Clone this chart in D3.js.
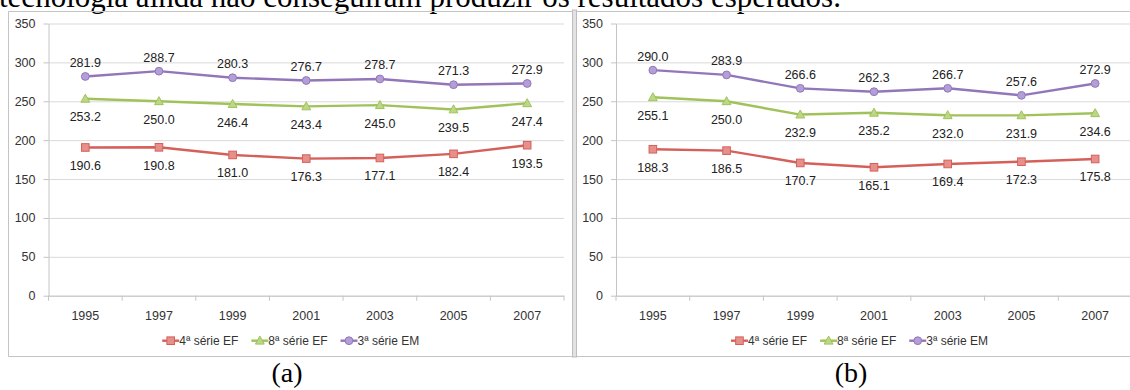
<!DOCTYPE html>
<html>
<head>
<meta charset="utf-8">
<script src="https://cdn.jsdelivr.net/npm/d3@7"></script>
<style>
  body { margin: 0; background: #fff; }
  svg { display: block; }
</style>
</head>
<body>
<div id="chart"></div>
<script>
// data
var years = ["1995", "1997", "1999", "2001", "2003", "2005", "2007"];
var seriesNames = ["4ª série EF", "8ª série EF", "3ª série EM"];
var yTicks = [0, 50, 100, 150, 200, 250, 300, 350];

var a4EF = [190.6, 190.8, 181.0, 176.3, 177.1, 182.4, 193.5];
var a8EF = [253.2, 250.0, 246.4, 243.4, 245.0, 239.5, 247.4];
var a3EM = [281.9, 288.7, 280.3, 276.7, 278.7, 271.3, 272.9];

var b4EF = [188.3, 186.5, 170.7, 165.1, 169.4, 172.3, 175.8];
var b8EF = [255.1, 250.0, 232.9, 235.2, 232.0, 231.9, 234.6];
var b3EM = [290.0, 283.9, 266.6, 262.3, 266.7, 257.6, 272.9];

var captionText = "tecnologia ainda não conseguiram produzir os resultados esperados.";

var svgSize = { width: 1130, height: 390 };

var colors = ["#d5605a", "#a0c25a", "#9177ba"];
var fills = ["#e7908b", "#bcd887", "#b39fd6"];
var markers = ["square", "triangle", "circle"];
// label goes below (+) or above (-) the point
var labelDy = [22.5, 22.5, -9.5];

var font = "'Liberation Sans', Arial, sans-serif";

var svg = d3.select("#chart").append("svg")
    .attr("width", svgSize.width)
    .attr("height", svgSize.height);

// the line of body text cut by the top of the picture
svg.append("text")
    .attr("x", -1)
    .attr("y", 7)
    .attr("font-family", "'Liberation Serif', 'Times New Roman', serif")
    .attr("font-size", 31)
    .attr("fill", "#000")
    .text(captionText);

var panels = [
    { left: 8.5, right: 573, plotLeft: 48.5, plotRight: 564, caption: "(a)", capX: 287,
      data: [a4EF, a8EF, a3EM] },
    { left: 576, right: 1143, plotLeft: 616, plotRight: 1132, caption: "(b)", capX: 851,
      data: [b4EF, b8EF, b3EM] }
];

// panel frames
svg.append("path")
    .attr("d", "M8.5,356.5V11.5H1130M8.5,356.5H1130")
    .attr("fill", "none").attr("stroke", "#c4c4c4");
svg.append("rect")
    .attr("x", 572.5).attr("y", 10).attr("width", 4).attr("height", 347)
    .attr("fill", "#e2e2e2").attr("stroke", "#bdbdbd").attr("stroke-width", 1);

function marker(g, type, cx, cy, i) {
    var m;
    if (type == "square") {
        m = g.append("rect").attr("x", cx - 3.8).attr("y", cy - 3.8)
            .attr("width", 7.6).attr("height", 7.6);
    } else if (type == "triangle") {
        m = g.append("path").attr("d", "M" + cx + "," + (cy - 4.6) + "L" + (cx + 4.4) + "," + (cy + 3.4) + "L" + (cx - 4.4) + "," + (cy + 3.4) + "Z");
    } else {
        m = g.append("circle").attr("cx", cx).attr("cy", cy).attr("r", 3.9);
    }
    m.attr("fill", fills[i]).attr("stroke", colors[i]).attr("stroke-width", 1);
}

panels.forEach(function(p) {
    var frame = svg.append("g");

    var xScale = d3.scaleBand().domain(years).range([p.plotLeft, p.plotRight]);
    var yScale = d3.scaleLinear().domain([0, 350]).range([295.7, 23.5]);
    var bw = xScale.bandwidth();

    // gridlines
    frame.append("g")
        .attr("transform", "translate(" + p.plotLeft + ",0)")
        .call(d3.axisLeft(yScale).tickValues(yTicks).tickSize(-(p.plotRight - p.plotLeft)).tickFormat(""))
        .call(function(g) {
            g.select(".domain").remove();
            g.selectAll("line").attr("stroke", "#d9d9d9").attr("stroke-width", 1);
        });

    // y axis
    frame.append("g")
        .attr("transform", "translate(" + p.plotLeft + ",0)")
        .call(d3.axisLeft(yScale).tickValues(yTicks).tickSize(5).tickSizeOuter(0).tickPadding(8))
        .call(function(g) {
            g.select(".domain").attr("stroke", "#c4c4c4");
            g.selectAll("line").attr("stroke", "#c4c4c4");
            g.selectAll("text").attr("font-family", font).attr("font-size", 12.5).attr("fill", "#333");
        });

    // x axis: labels at band centres, ticks on band edges
    var xAxis = frame.append("g")
        .attr("transform", "translate(0,295.7)")
        .call(d3.axisBottom(xScale).tickSize(0).tickPadding(15))
        .call(function(g) {
            g.select(".domain").attr("stroke", "#c4c4c4");
            g.selectAll("text").attr("font-family", font).attr("font-size", 12.5).attr("fill", "#333");
        });
    var edges = years.map(function(d) { return xScale(d); }).concat([p.plotRight]);
    xAxis.selectAll(".edge").data(edges).enter().append("line")
        .attr("x1", function(d) { return d; }).attr("x2", function(d) { return d; })
        .attr("y1", 0).attr("y2", 5)
        .attr("stroke", "#c4c4c4");

    // series
    var line = d3.line()
        .x(function(d, j) { return xScale(years[j]) + bw / 2; })
        .y(function(d) { return yScale(d); });

    p.data.forEach(function(vals, i) {
        var sg = frame.append("g");
        sg.append("path")
            .attr("d", line(vals))
            .attr("fill", "none")
            .attr("stroke", colors[i])
            .attr("stroke-width", 2.4)
            .attr("stroke-linejoin", "round");
        vals.forEach(function(v, j) {
            marker(sg, markers[i], xScale(years[j]) + bw / 2, yScale(v), i);
        });
        sg.selectAll("text").data(vals).enter().append("text")
            .attr("x", function(d, j) { return xScale(years[j]) + bw / 2; })
            .attr("y", function(d) { return yScale(d) + labelDy[i]; })
            .attr("text-anchor", "middle")
            .attr("font-family", font)
            .attr("font-size", 12.5)
            .attr("fill", "#222")
            .text(function(d) { return d.toFixed(1); });
    });

    // legend, centred in the panel
    var legend = frame.append("g");
    var lx = 0;
    seriesNames.forEach(function(name, i) {
        var item = legend.append("g").attr("transform", "translate(" + lx + ",0)");
        item.append("line").attr("x1", 0).attr("x2", 17).attr("y1", 0).attr("y2", 0)
            .attr("stroke", colors[i]).attr("stroke-width", 2.4);
        marker(item, markers[i], 8.5, 0, i);
        var t = item.append("text").attr("x", 17).attr("y", 4.3)
            .attr("font-family", font).attr("font-size", 12).attr("fill", "#333")
            .text(name);
        lx += 17 + t.node().getComputedTextLength() + 13;
    });
    lx -= 13;
    legend.attr("transform", "translate(" + ((p.left + p.right) / 2 - lx / 2) + ",340.7)");

    // caption under the panel
    svg.append("text")
        .attr("x", p.capX)
        .attr("y", 382)
        .attr("text-anchor", "middle")
        .attr("font-family", "'Liberation Serif', 'Times New Roman', serif")
        .attr("font-size", 28)
        .text(p.caption);
});
</script>
</body>
</html>
